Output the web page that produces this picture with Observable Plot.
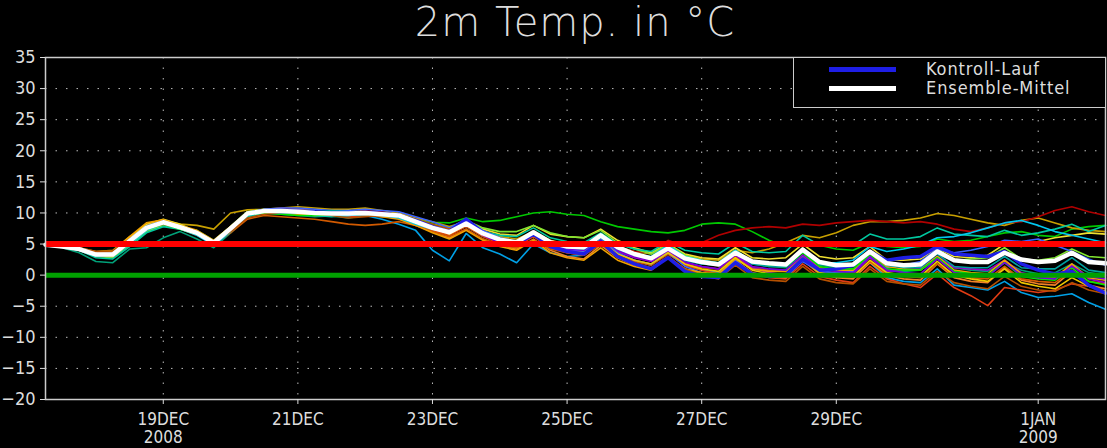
<!DOCTYPE html>
<html><head><meta charset="utf-8">
<script src="https://cdn.jsdelivr.net/npm/d3@7"></script>
<script src="https://cdn.jsdelivr.net/npm/@observablehq/plot@0.6"></script>
<style>
html,body{margin:0;padding:0;background:#000;}
#wrap{position:relative;width:1107px;height:448px;overflow:hidden;background:#000;}
#title{position:absolute;z-index:2;left:45px;width:1060px;top:2px;height:46px;text-align:center;color:#dddddd;font-family:"DejaVu Sans",sans-serif;font-weight:200;font-size:40px;line-height:40px;letter-spacing:1px;}
#chart{position:absolute;z-index:1;left:0;top:40px;}
#legend{position:absolute;z-index:3;left:793px;top:57px;width:311px;height:49px;border:1px solid #ccc;background:#000;}
.sw{position:absolute;left:35px;width:67px;height:5px;}
.lt{position:absolute;left:132px;color:#dddddd;font-family:"DejaVu Sans Condensed","DejaVu Sans",sans-serif;font-size:18px;line-height:18px;letter-spacing:0.9px;white-space:nowrap;}
</style></head>
<body>
<div id="wrap">
  <div id="title"></div>
  <div id="chart"></div>
  <div id="legend"></div>
</div>
<script>
// ---- data ----
const titleText = "2m Temp. in °C";
const startTime = "2008-12-17T06:00:00Z";
const stepHours = 6;
const yTicks = [-20,-15,-10,-5,0,5,10,15,20,25,30,35];
const xTickDates = ["2008-12-19","2008-12-21","2008-12-23","2008-12-25","2008-12-27","2008-12-29","2009-01-01"];
const xTickLabels = ["19DEC\n2008","21DEC","23DEC","25DEC","27DEC","29DEC","1JAN\n2009"];
const refWarm = [5];
const refZero = [0];
const legendLabels = ["Kontroll-Lauf","Ensemble-Mittel"];

const ensembleMean = [4.9,4.6,4.2,3.3,3.3,5.5,7.6,8.5,7.7,6.8,5.2,7.5,9.9,10.3,10.3,10.2,10.0,9.9,9.9,10.0,9.8,9.6,
 8.6,7.6,6.9,8.3,6.7,5.7,5.3,6.9,5.3,4.6,4.5,6.4,4.5,3.4,2.7,4.3,2.7,2.1,1.7,3.6,2.2,1.9,1.7,4.1,2.1,1.6,1.7,3.8,1.9,1.6,1.7,3.8,2.4,2.1,2.1,3.6,2.5,2.1,2.3,3.6,2.1,1.9];

const controlRun = [4.9,4.6,4.2,3.3,3.3,5.5,7.6,8.5,7.7,6.8,5.2,7.5,9.9,10.4,10.4,10.3,10.2,10.0,10.0,10.1,9.9,9.6,
 8.8,7.8,7.0,9.0,6.8,5.6,5.0,6.6,4.6,3.8,3.4,5.4,3.0,1.8,1.0,2.8,0.6,-0.2,-0.4,2.0,0.2,-0.2,0.0,2.6,0.8,1.0,1.6,3.8,2.4,2.8,3.0,4.6,3.4,3.2,3.0,3.8,1.8,0.8,0.2,0.6,-1.6,-2.9];

const memberA = [4.9,4.5,4.0,3.0,3.2,5.0,7.2,8.2,7.5,6.5,5.0,7.0,9.6,10.3,10.6,10.5,10.4,10.2,10.0,10.1,10.0,9.8,
 9.0,8.5,8.4,9.2,8.6,8.8,9.4,10.0,10.2,9.8,9.6,8.6,7.8,7.4,7.0,6.8,7.2,8.2,8.4,8.2,7.0,5.6,4.6,5.4,4.8,4.2,4.0,5.2,4.6,4.4,4.6,5.8,5.4,5.6,6.2,6.8,7.0,6.4,6.2,7.4,7.8,8.0];
const memberB = [4.9,4.4,3.6,2.2,2.0,4.2,4.4,6.0,7.0,5.8,4.4,6.8,9.4,10.0,9.8,9.6,9.4,9.5,9.2,9.6,9.4,9.2,
 8.0,7.2,6.6,7.8,6.2,5.6,5.2,6.4,5.0,4.6,4.2,5.6,4.0,3.2,2.6,4.0,2.4,1.8,1.6,3.0,1.8,1.4,1.2,3.2,1.6,1.2,1.4,3.0,1.0,0.6,0.8,2.6,1.2,0.8,0.6,2.0,0.8,0.2,0.4,1.8,0.4,0.0];
const memberC = [4.9,4.7,4.3,3.4,3.5,5.6,7.8,8.8,8.0,7.0,5.4,7.6,10.0,10.5,10.2,10.0,9.8,9.6,9.8,9.6,9.0,8.2,
 7.2,4.0,2.3,6.7,4.4,3.4,2.0,5.0,3.6,3.0,3.2,5.6,3.4,2.4,1.6,3.8,1.6,0.8,0.4,2.8,1.0,0.6,0.8,3.0,0.8,0.2,-0.2,2.0,-0.4,-1.0,-1.2,1.0,-1.6,-2.0,-2.4,-1.0,-2.8,-3.6,-3.4,-3.0,-4.4,-5.5];
const memberD = [4.9,4.8,4.4,3.8,4.0,6.2,8.0,8.8,8.2,8.0,7.4,10.0,10.5,10.6,10.8,11.0,10.8,10.6,10.6,10.8,10.4,10.0,
 9.2,8.6,7.8,8.6,7.0,6.2,5.8,7.0,5.6,5.0,4.8,6.2,4.6,3.8,3.4,4.6,3.2,2.6,2.4,4.0,3.6,4.2,5.2,6.4,6.0,6.8,8.0,8.6,8.6,8.8,9.2,9.9,9.6,9.0,8.4,8.0,8.8,9.2,8.4,7.6,7.2,7.0];
const memberE = [4.9,4.6,4.1,3.2,3.4,5.4,7.4,8.6,7.8,6.8,5.0,7.2,9.6,10.4,10.8,10.6,10.2,10.0,10.2,10.4,10.2,9.6,
 8.4,7.4,6.4,8.0,6.4,5.6,5.4,6.8,5.2,4.6,4.4,6.0,4.4,3.8,3.6,5.6,4.6,5.2,6.4,7.2,7.6,7.8,7.6,8.2,8.0,8.4,8.6,8.8,8.6,8.4,8.6,8.2,7.4,7.0,7.6,8.4,8.6,9.4,10.4,11.0,10.2,9.6];
const memberF = [4.9,4.6,4.2,3.4,3.4,5.6,7.6,8.4,7.6,6.6,5.2,7.4,9.8,10.2,10.0,9.8,9.8,9.6,9.4,9.6,9.4,9.2,
 8.2,7.2,6.4,7.8,6.2,5.0,4.6,6.2,4.4,3.6,3.2,5.2,3.4,2.4,1.8,3.4,1.6,0.8,0.2,2.4,0.4,-0.4,-0.6,1.8,-0.2,-0.8,-1.2,1.4,-0.6,-1.4,-2.0,0.2,-2.0,-3.3,-4.9,-2.0,-2.4,-2.8,-2.4,-1.4,-1.8,-2.2];
const memberG = [4.9,4.8,4.4,3.4,3.0,6.0,8.2,9.0,8.2,7.0,5.4,7.8,10.2,10.6,10.4,10.2,10.0,10.2,10.4,10.2,9.8,9.4,
 8.8,8.0,7.4,8.8,7.4,6.6,6.4,8.0,6.6,6.2,6.0,7.4,5.6,4.4,3.6,5.0,3.4,2.8,2.6,4.4,2.8,2.6,2.8,5.0,3.0,2.6,2.8,4.6,2.4,2.4,2.6,4.4,3.0,2.8,3.2,5.0,4.6,5.4,6.0,6.4,6.8,6.6];
const memberH = [4.9,4.5,4.0,3.0,3.1,5.2,7.4,8.3,7.6,6.7,5.1,7.3,9.8,10.2,10.4,10.6,10.4,10.0,9.7,9.8,9.6,9.4,
 8.2,7.0,6.0,7.4,5.8,4.8,4.2,5.8,4.0,3.0,2.6,4.8,2.8,1.6,1.0,2.8,1.0,0.2,-0.2,2.2,0.4,-0.2,-0.4,2.4,0.2,-0.4,-0.6,2.0,0.0,-0.6,-0.8,1.8,-0.4,-1.0,-1.2,1.2,-0.8,-1.4,-1.6,0.6,-1.6,-2.2];
const memberI = [4.9,4.7,4.3,3.6,3.6,5.4,7.0,8.0,7.4,6.4,5.0,6.8,9.0,9.6,9.4,9.2,9.0,8.6,8.2,8.0,8.2,8.6,
 8.0,7.0,6.2,7.4,5.8,4.8,4.4,5.6,4.2,3.6,3.2,5.0,3.0,2.2,1.6,3.4,1.8,1.2,1.0,3.0,1.2,0.8,0.6,2.8,0.6,0.0,-0.2,2.2,0.2,-0.2,-0.4,1.8,0.0,-0.4,-0.6,1.4,-0.6,-1.0,-1.2,0.8,-1.0,-1.4];
const memberJ = [4.9,4.6,4.2,3.3,3.2,5.4,7.5,8.4,7.7,6.9,5.3,7.6,10.0,10.4,10.2,10.0,9.8,9.8,9.8,9.8,9.7,9.5,
 8.6,7.8,7.0,8.6,6.8,5.6,5.0,6.6,4.8,4.0,3.8,5.8,3.8,2.8,2.2,3.8,2.0,1.4,1.0,3.2,1.2,0.4,0.0,2.8,0.6,0.0,0.2,2.8,0.6,0.8,1.0,3.0,1.2,1.0,0.8,2.4,0.4,-0.2,-0.4,1.6,-0.6,-1.2];
const memberK = [4.9,4.6,4.1,3.0,2.8,4.8,7.0,8.0,7.6,7.2,5.6,7.8,10.2,10.6,10.6,10.4,10.2,10.0,10.2,10.2,10.0,9.8,
 9.0,8.2,7.6,8.8,7.6,7.0,7.0,8.0,6.8,6.2,6.0,7.2,5.2,4.2,3.4,5.0,3.2,2.4,2.0,4.0,2.2,1.8,1.8,4.4,2.0,1.6,1.6,4.0,1.8,1.6,2.0,4.2,2.4,2.6,2.8,4.4,2.6,2.4,2.8,4.2,3.0,2.8];
const memberL = [4.9,4.5,4.0,2.8,2.6,4.6,6.8,7.8,7.4,6.6,5.0,7.0,9.4,10.0,10.0,9.8,9.6,9.4,9.6,9.8,9.6,9.4,
 8.4,7.6,7.0,8.4,7.0,6.4,6.2,7.6,6.0,5.4,5.2,6.8,5.0,4.2,3.8,5.4,4.0,3.6,3.4,5.2,3.8,3.6,3.8,6.4,4.8,4.6,4.8,6.6,5.8,5.8,6.2,7.6,6.6,6.4,6.2,7.2,6.4,6.8,7.4,8.2,7.0,8.0];
const memberM = [4.9,4.6,4.3,3.5,3.6,5.8,7.9,8.7,7.9,7.0,5.4,7.6,10.0,10.6,10.8,10.8,10.6,10.4,10.4,10.6,10.4,10.2,
 9.4,8.6,7.6,9.0,7.2,6.0,5.4,6.8,5.0,4.2,3.8,6.0,3.6,2.4,1.8,3.6,1.4,0.4,-0.2,2.4,0.2,-0.2,-0.2,2.2,0.6,0.4,0.6,3.0,1.2,1.6,2.2,4.2,3.6,4.0,4.6,5.6,5.4,5.8,4.8,3.8,2.6,1.6];
const memberN = [4.9,4.7,4.4,3.6,3.8,6.2,8.4,8.9,8.0,7.2,5.6,7.8,10.0,10.2,10.0,9.8,9.6,9.8,10.0,9.8,9.4,9.0,
 8.0,6.8,5.8,7.2,5.6,4.6,4.0,5.6,3.6,2.8,2.4,4.4,2.4,1.4,0.8,2.8,1.0,0.4,0.2,2.6,1.0,0.6,0.6,3.2,1.2,0.8,0.8,3.4,1.4,1.0,0.8,3.0,0.8,0.4,0.2,2.4,0.2,-0.2,-0.4,1.8,-0.4,-0.8];
const memberO = [4.9,4.6,4.0,3.1,3.0,5.0,7.2,8.2,7.4,6.4,4.8,7.0,9.6,10.2,10.4,10.2,10.0,9.6,9.6,9.8,9.6,9.2,
 8.2,7.4,6.8,8.0,6.6,5.8,5.4,6.8,5.2,4.4,4.2,6.0,4.2,3.4,3.0,4.8,3.0,2.4,2.0,4.0,2.2,1.8,1.6,4.0,2.0,2.0,2.4,4.6,3.8,4.2,4.8,6.0,6.2,6.8,7.6,8.4,8.8,8.0,7.0,6.4,5.8,5.2];
const memberP = [4.9,4.5,4.1,3.2,3.0,5.2,7.6,8.6,8.0,6.8,5.2,7.2,9.8,10.4,10.2,10.0,9.8,10.0,10.2,10.0,9.8,9.6,
 8.8,7.6,6.6,8.0,6.4,5.4,5.0,6.4,4.6,3.8,3.6,5.4,3.4,2.4,1.8,3.6,1.8,1.0,0.6,2.8,0.8,0.2,0.0,2.6,0.4,-0.2,-0.2,2.4,0.4,0.0,-0.2,2.2,0.0,-0.6,-1.0,1.0,-1.2,-1.8,-2.2,-0.4,-1.8,-2.6];
const memberQ = [4.9,4.6,4.2,3.4,3.4,5.4,7.4,8.2,7.4,6.6,5.2,7.4,9.8,10.0,9.8,9.6,9.6,9.8,9.8,10.0,9.8,9.4,
 8.4,7.6,7.0,8.4,6.8,5.8,5.4,7.0,5.2,4.4,4.2,6.2,4.4,3.4,2.8,4.4,2.6,2.0,1.8,3.8,2.0,1.6,1.4,3.6,1.4,1.0,1.0,3.2,1.0,0.8,0.8,2.8,0.6,0.2,0.0,2.0,-0.2,-0.6,-0.8,1.2,-1.0,-1.6];
const memberR = [4.9,4.7,4.4,3.8,3.9,5.8,7.6,8.2,7.6,6.8,5.4,7.0,9.2,9.8,10.0,10.2,10.0,9.6,9.2,9.4,9.6,9.8,
 9.0,8.2,7.4,8.4,6.8,5.8,5.2,6.4,4.6,3.8,3.4,5.2,3.2,2.0,1.2,3.0,1.0,0.0,-0.6,1.6,-0.4,-0.8,-1.0,1.4,-0.6,-1.2,-1.4,1.0,-1.0,-1.4,-1.6,0.6,-1.2,-1.8,-2.2,-0.2,-1.8,-2.4,-2.6,-1.2,-2.4,-3.0];
const memberS = [4.9,4.6,4.2,3.4,3.4,5.6,7.6,8.5,7.8,6.8,5.2,7.6,10.0,10.4,10.4,10.2,10.0,10.0,10.2,10.2,10.0,9.8,
 8.8,7.8,6.8,8.2,6.4,5.2,4.8,6.4,4.8,4.2,4.0,6.2,4.0,3.0,2.4,4.2,2.2,1.4,1.0,3.4,1.4,1.0,0.8,3.2,1.0,0.6,0.4,3.0,0.8,0.4,0.2,2.6,0.4,0.0,-0.2,2.0,0.0,-0.4,-0.6,1.4,-0.2,-0.6];
const memberT = [4.9,4.5,4.1,3.2,3.2,5.6,7.8,8.6,7.8,6.9,5.3,7.5,9.8,10.2,10.0,10.0,10.2,10.4,10.2,10.0,9.8,9.6,
 8.6,7.6,6.8,8.2,6.6,5.6,5.2,6.8,5.0,4.4,4.2,6.0,4.2,3.2,2.6,4.2,2.4,1.8,1.6,3.6,1.8,1.4,1.4,3.8,1.8,1.4,1.4,3.6,1.6,1.2,1.2,3.4,1.4,1.2,1.2,3.0,1.2,1.0,1.0,2.8,0.8,0.4];

const members = [memberA,memberB,memberC,memberD,memberE,memberF,memberG,memberH,memberI,memberJ,
                 memberK,memberL,memberM,memberN,memberO,memberP,memberQ,memberR,memberS,memberT];
const memberColors = ["#00c800","#00a078","#00a0e6","#c8a000","#b00000","#e03c14","#f0e030","#f08228","#d25a00","#9600c8",
                      "#80e632","#00c8a0","#3c64ff","#f0a000","#00c8f0","#f0c800","#00e600","#b45000","#7800dc","#00a0a0"];
const controlColor = "#1e1ee6";
const meanColor = "#ffffff";

// ---- build ----
const t0 = new Date(startTime).getTime();
const times = ensembleMean.map((_, i) => new Date(t0 + i * stepHours * 3600e3));
[ensembleMean, controlRun, ...members].forEach((a, k) => { if (a.length !== times.length) throw new Error("series " + k + " has length " + a.length); });
const toRows = (vals) => vals.map((v, i) => ({t: times[i], v}));
const tickDates = xTickDates.map(d => new Date(d + "T00:00:00Z"));
const labelOf = new Map(tickDates.map((d, i) => [+d, xTickLabels[i]]));

document.getElementById("title").textContent = titleText;

const fontFam = '"DejaVu Sans Condensed","DejaVu Sans",sans-serif';
const chart = Plot.plot({
  width: 1107, height: 408,
  marginTop: 17, marginBottom: 49, marginLeft: 45, marginRight: 2,
  style: {background: "transparent", color: "#dddddd", fontFamily: fontFam, overflow: "visible"},
  x: {type: "utc", domain: [new Date(t0), new Date("2009-01-02T00:00:00Z")], label: null},
  y: {domain: [-20, 35], label: null},
  marks: [
    Plot.gridY(yTicks, {stroke: "#bbbbbb", strokeOpacity: 1, strokeWidth: 1, strokeDasharray: "1.5,9"}),
    Plot.gridX(tickDates, {stroke: "#bbbbbb", strokeOpacity: 1, strokeWidth: 1, strokeDasharray: "1.5,9"}),
    ...members.map((m, k) => Plot.line(toRows(m), {x: "t", y: "v", stroke: memberColors[k], strokeWidth: 1.6})),
    Plot.line(toRows(controlRun), {x: "t", y: "v", stroke: controlColor, strokeWidth: 3.5}),
    Plot.line(toRows(ensembleMean), {x: "t", y: "v", stroke: meanColor, strokeWidth: 4.5}),
    Plot.ruleY(refWarm, {stroke: "#ff0000", strokeWidth: 6}),
    Plot.ruleY(refZero, {stroke: "#00a000", strokeWidth: 5}),
    Plot.frame({stroke: "#cccccc", strokeWidth: 1.5}),
    Plot.axisY(yTicks, {label: null, tickSize: 5, tickPadding: 5, fontSize: 18, tickFormat: d => String(d).replace("-", "\u2212")}),
    Plot.axisX(tickDates, {label: null, tickSize: 5, tickPadding: 7, fontSize: 17, lineHeight: 1.1, tickFormat: d => labelOf.get(+d)})
  ]
});
document.getElementById("chart").appendChild(chart);

// legend
const lg = document.getElementById("legend");
[[controlColor, legendLabels[0], 11], [meanColor, legendLabels[1], 30]].forEach(([c, txt, cy]) => {
  const s = document.createElement("div"); s.className = "sw"; s.style.background = c; s.style.top = (cy - 2.5) + "px"; lg.appendChild(s);
  const t = document.createElement("div"); t.className = "lt"; t.textContent = txt; t.style.top = (cy - 9) + "px"; lg.appendChild(t);
});
</script>
</body></html>
